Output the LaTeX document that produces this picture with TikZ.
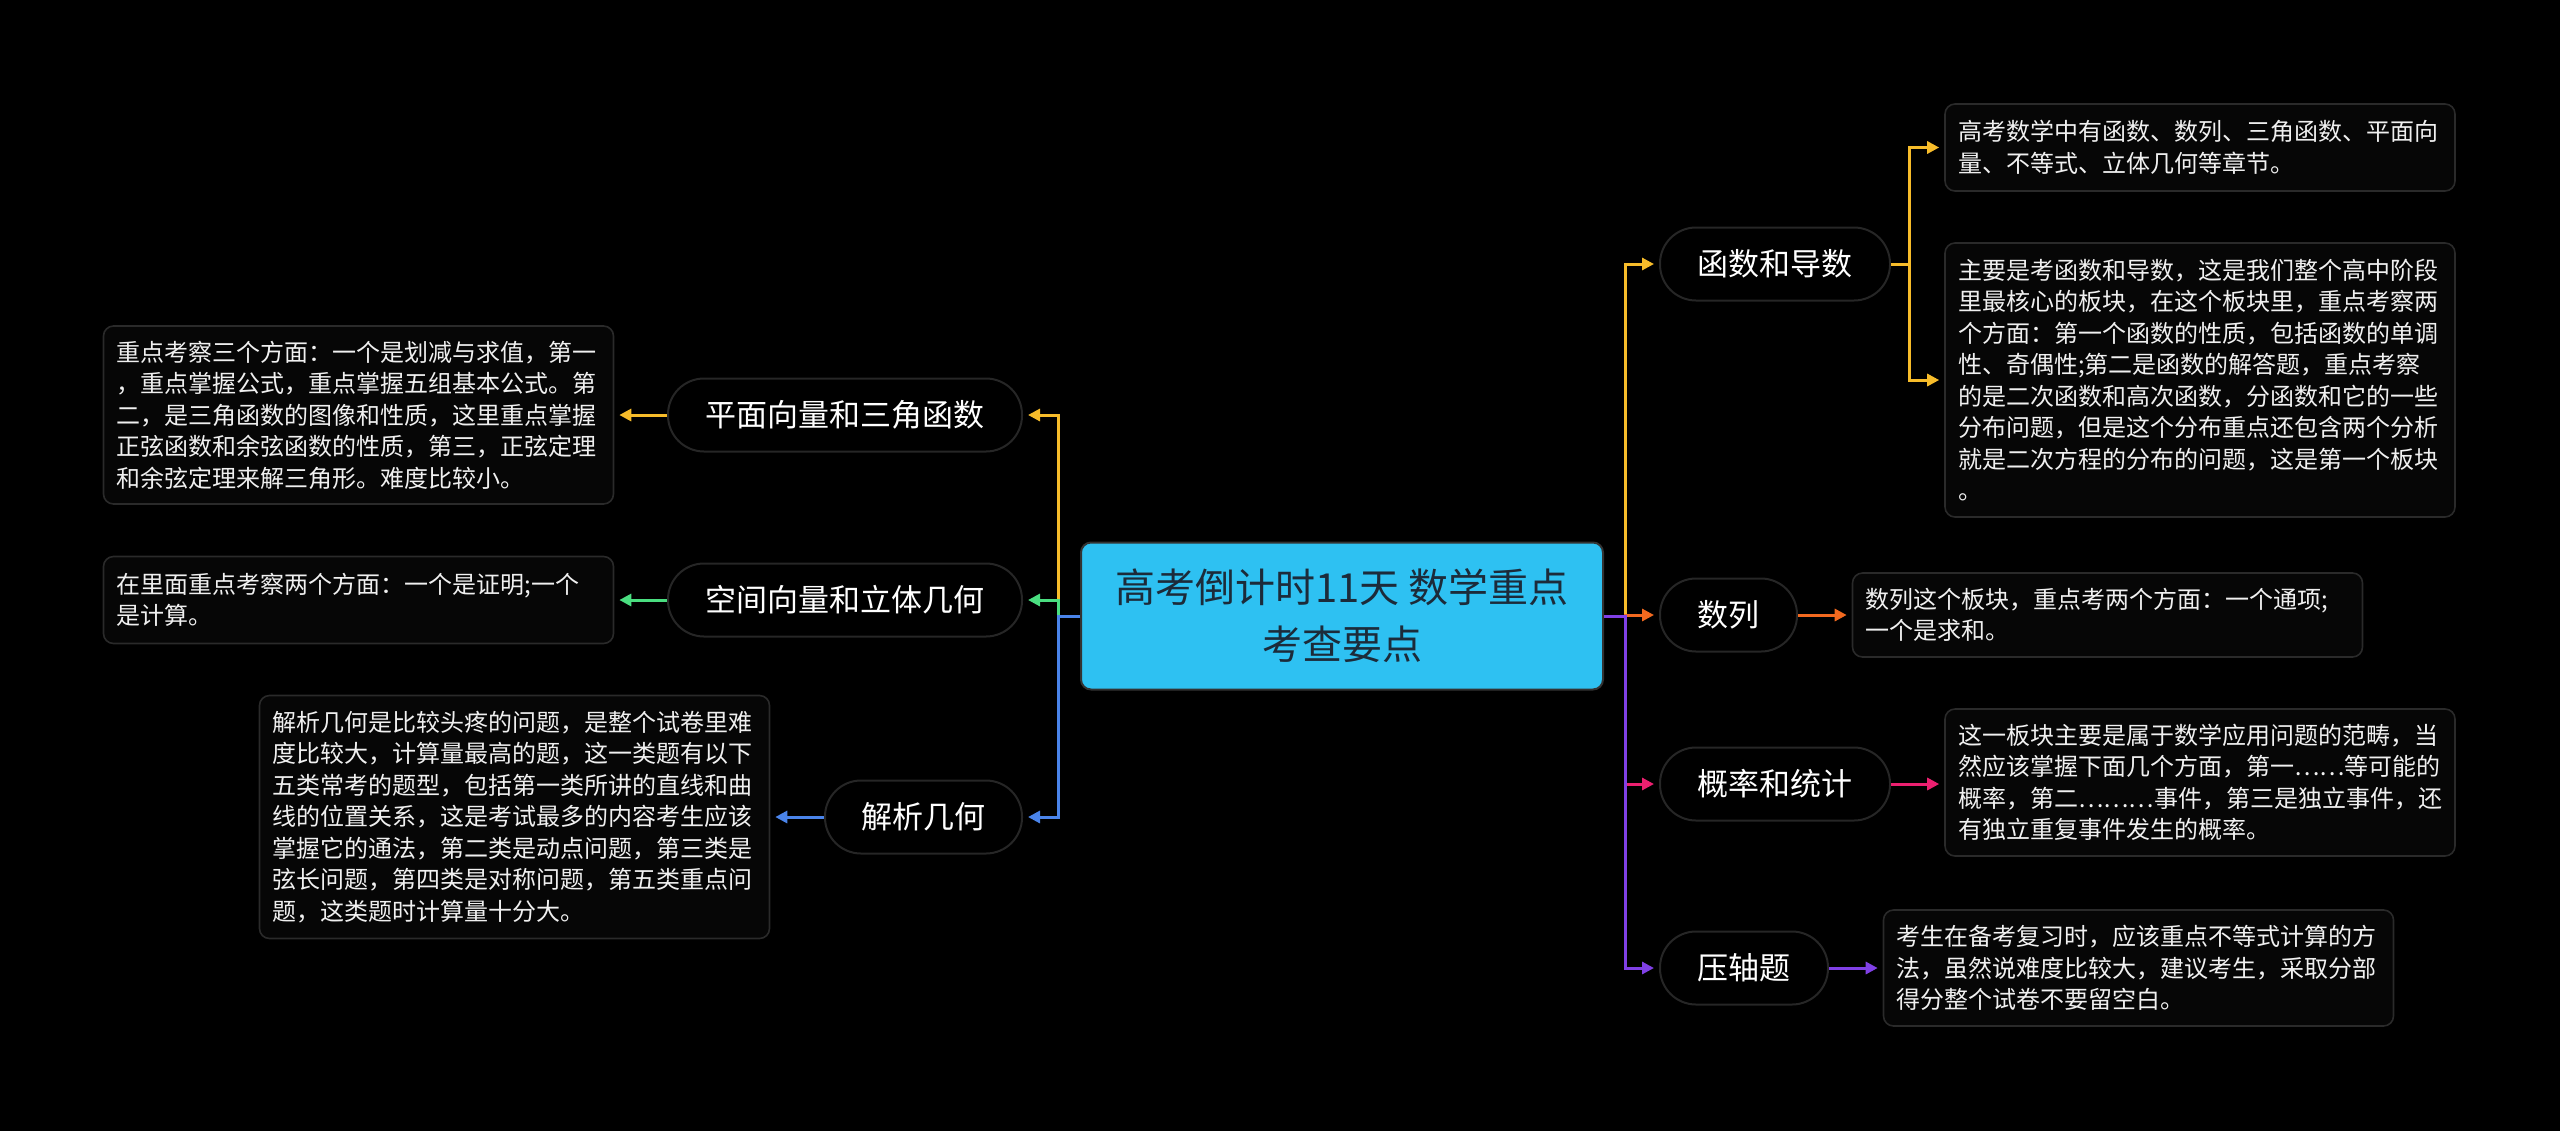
\documentclass[tikz,border=0pt]{standalone}
\usepackage{fontspec}
\setmainfont{Noto Sans CJK SC}
\usetikzlibrary{arrows.meta}
\definecolor{bg}{HTML}{000000}
\definecolor{rootfill}{HTML}{2EC1F2}
\definecolor{roottext}{HTML}{1C2B3A}
\definecolor{pillborder}{HTML}{262626}
\definecolor{boxborder}{HTML}{2A2A2A}
\definecolor{boxfill}{HTML}{060606}
\definecolor{cyellow}{HTML}{F7BC2A}
\definecolor{cgreen}{HTML}{4ADE80}
\definecolor{cblue}{HTML}{4A84EA}
\definecolor{corange}{HTML}{F2691F}
\definecolor{cpink}{HTML}{EC2070}
\definecolor{cpurple}{HTML}{8040E6}
\tikzset{
  rootbox/.style={rectangle, rounded corners=5pt, fill=rootfill, draw=black!80, line width=1pt,
    minimum width=261pt, minimum height=73.5pt, text=roottext, align=center,
    font=\fontsize{20pt}{28.5pt}\selectfont, inner sep=0pt},
  pill/.style={rectangle, rounded corners=18pt, draw=pillborder, line width=1pt, fill=black,
    minimum height=36.5pt, text=white, font=\fontsize{15.5pt}{18pt}\selectfont, inner sep=0pt},
  infobox/.style={rectangle, rounded corners=5pt, draw=boxborder, line width=0.8pt, fill=boxfill,
    text=white!94!black, align=left, text width=242pt, inner xsep=6.5pt, inner ysep=0pt,
    font=\fontsize{12pt}{15.75pt}\selectfont},
  conn/.style={line width=1.5pt},
  arr/.style={conn, -{Triangle[length=6pt,width=6pt]}, shorten >=2.5pt},
}
\begin{document}
\begin{tikzpicture}[x=0.5pt,y=-0.5pt]
\useasboundingbox (0,0) rectangle (2560,1131);
\fill[bg] (0,0) rectangle (2560,1131);

% root
\node[rootbox] (root) at (1342,616) {高考倒计时11天 数学重点\\考查要点};

% right branches
\node[pill, minimum width=115pt] (fn) at (1775,264) {函数和导数};
\node[pill, minimum width=68.5pt] (sl) at (1728.5,615) {数列};
\node[pill, minimum width=115pt] (gl) at (1775,784) {概率和统计};
\node[pill, minimum width=84pt] (yz) at (1744,968) {压轴题};

% left branches
\node[pill, minimum width=177pt] (pm) at (845,415) {平面向量和三角函数};
\node[pill, minimum width=177pt] (kj) at (845,600) {空间向量和立体几何};
\node[pill, minimum width=98.5pt] (jx) at (923.5,817) {解析几何};

% detail boxes right
\node[infobox, minimum height=43.5pt] (f1) at (2200,147.5) {高考数学中有函数、数列、三角函数、平面向\\量、不等式、立体几何等章节。};
\node[infobox, minimum height=137pt] (f2) at (2200,380) {主要是考函数和导数，这是我们整个高中阶段\\里最核心的板块，在这个板块里，重点考察两\\个方面：第一个函数的性质，包括函数的单调\\性、奇偶性;第二是函数的解答题，重点考察\\的是二次函数和高次函数，分函数和它的一些\\分布问题，但是这个分布重点还包含两个分析\\就是二次方程的分布的问题，这是第一个板块\\。};
\node[infobox, minimum height=42pt] (sb) at (2107.5,615) {数列这个板块，重点考两个方面：一个通项;\\一个是求和。};
\node[infobox, minimum height=73.5pt] (gb) at (2200,782.5) {这一板块主要是属于数学应用问题的范畴，当\\然应该掌握下面几个方面，第一……等可能的\\概率，第二………事件，第三是独立事件，还\\有独立重复事件发生的概率。};
\node[infobox, minimum height=58pt] (yb) at (2138.5,968) {考生在备考复习时，应该重点不等式计算的方\\法，虽然说难度比较大，建议考生，采取分部\\得分整个试卷不要留空白。};

% detail boxes left
\node[infobox, minimum height=89pt] (L1) at (358.5,415) {重点考察三个方面：一个是划减与求值，第一\\，重点掌握公式，重点掌握五组基本公式。第\\二，是三角函数的图像和性质，这里重点掌握\\正弦函数和余弦函数的性质，第三，正弦定理\\和余弦定理来解三角形。难度比较小。};
\node[infobox, minimum height=43.5pt] (L2) at (358.5,600) {在里面重点考察两个方面：一个是证明;一个\\是计算。};
\node[infobox, minimum height=121.5pt] (L3) at (514.5,817) {解析几何是比较头疼的问题，是整个试卷里难\\度比较大，计算量最高的题，这一类题有以下\\五类常考的题型，包括第一类所讲的直线和曲\\线的位置关系，这是考试最多的内容考生应该\\掌握它的通法，第二类是动点问题，第三类是\\弦长问题，第四类是对称问题，第五类重点问\\题，这类题时计算量十分大。};

% junction coordinates
\coordinate (rt) at (1625,616);
\coordinate (lt) at (1058,616);
\coordinate (fnj) at (1909,264);

% root -> right branches
\draw[arr, cyellow] (root.east) -- (rt) |- (fn.west);
\draw[arr, corange] (root.east) -- (rt) |- (sl.west);
\draw[arr, cpink] (root.east) -- (rt) |- (gl.west);
\draw[arr, cpurple] (root.east) -- (rt) |- (yz.west);

% root -> left branches
\draw[arr, cyellow] (root.west) -- (lt) |- (pm.east);
\draw[arr, cgreen] (root.west) -- (lt) |- (kj.east);
\draw[arr, cblue] (root.west) -- (lt) |- (jx.east);

% branch -> details right
\draw[conn, cyellow] (fn.east) -- (fnj);
\draw[arr, cyellow] (fnj) |- (f1.west);
\draw[arr, cyellow] (fnj) |- (f2.west);
\draw[arr, corange] (sl.east) -- (sl.east -| sb.west);
\draw[arr, cpink] (gl.east) -- (gl.east -| gb.west);
\draw[arr, cpurple] (yz.east) -- (yz.east -| yb.west);

% branch -> details left
\draw[arr, cyellow] (pm.west) -- (pm.west -| L1.east);
\draw[arr, cgreen] (kj.west) -- (kj.west -| L2.east);
\draw[arr, cblue] (jx.west) -- (jx.west -| L3.east);
\end{tikzpicture}
\end{document}
